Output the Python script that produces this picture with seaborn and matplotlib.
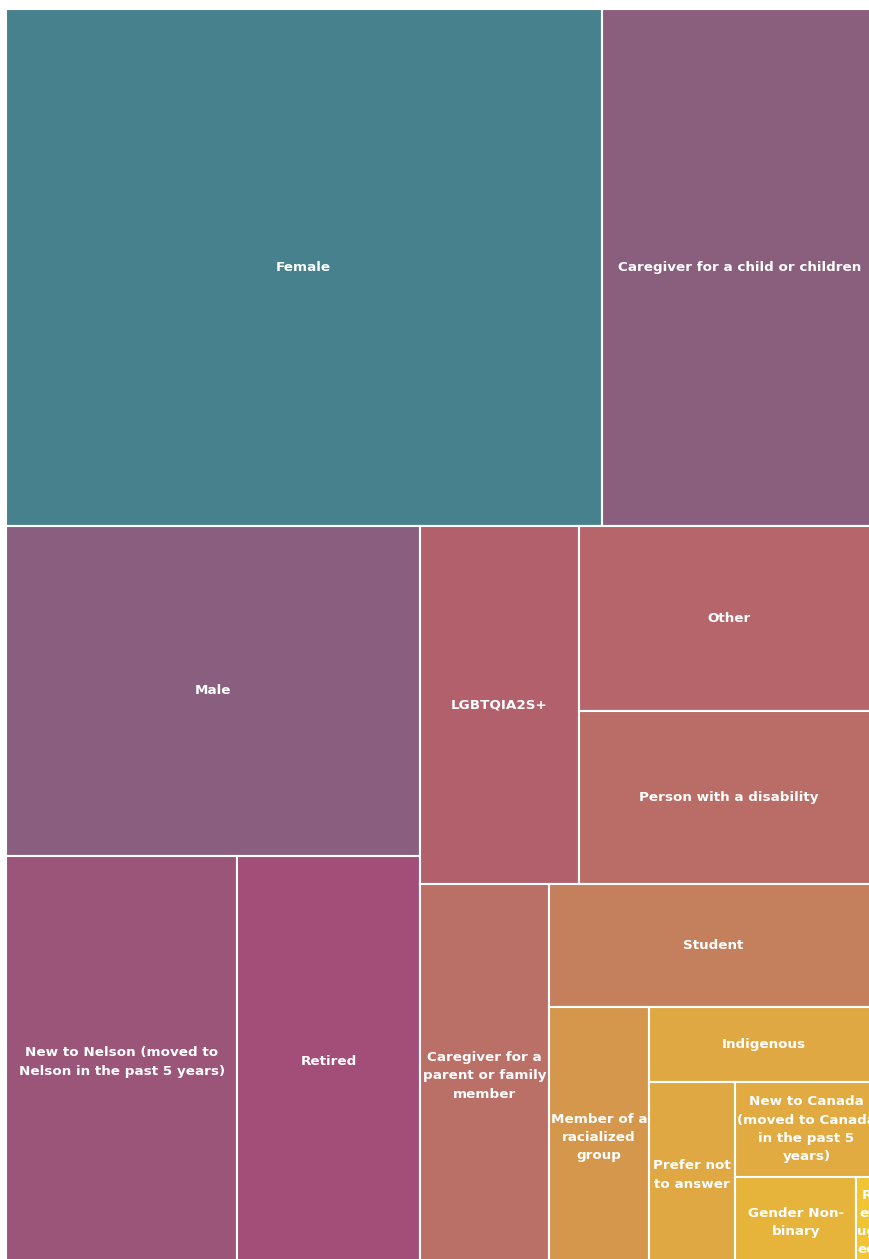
import numpy as np
import pandas as pd
import matplotlib
matplotlib.use("Agg")
import matplotlib.pyplot as plt
import seaborn as sns
from matplotlib.patches import Rectangle
from matplotlib.font_manager import FontProperties

# ---------------- data ----------------
categories = [
    "Female",
    "Caregiver for a child or children",
    "Male",
    "New to Nelson (moved to Nelson in the past 5 years)",
    "Retired",
    "LGBTQIA2S+",
    "Other",
    "Person with a disability",
    "Caregiver for a parent or family member",
    "Student",
    "Member of a racialized group",
    "Indigenous",
    "Prefer not to answer",
    "New to Canada (moved to Canada in the past 5 years)",
    "Gender Non-binary",
    "Refugee",
]
counts = [614, 285, 272, 190, 150, 114, 110, 103, 99, 81, 52, 34, 32, 27, 22, 4]

palette = [
    "#46818D", "#8A5F7E", "#8A5E7E", "#9B5579", "#A34E78", "#B3606D",
    "#B6666A", "#B96D66", "#BA6F67", "#C47F5D", "#D5974C", "#DFA843",
    "#DFA843", "#E1AB41", "#E6B43B", "#F0C433",
]

df = pd.DataFrame({"category": categories, "count": counts, "color": palette})

# ---------------- style ----------------
sns.set_theme(style="white")
plt.rcParams["font.family"] = ["DejaVu Sans"]
colors = sns.color_palette(list(df["color"]))

FIG_W, FIG_H, DPI = 870, 1259, 100
fig = plt.figure(figsize=(FIG_W / DPI, FIG_H / DPI), dpi=DPI)
fig.patch.set_facecolor("white")
# the treemap area runs past the right and bottom edges of the image
ax = fig.add_axes([6 / FIG_W, -9 / FIG_H, 872 / FIG_W, 1259 / FIG_H])
ax.set_axis_off()
pos = ax.get_position()
AW = pos.width * FIG_W
AH = pos.height * FIG_H
ax.set_xlim(0, AW)
ax.set_ylim(AH, 0)


# ---------------- layout (ordered binary split) ----------------
def split_layout(idx, vals, x0, y0, x1, y1, out):
    if len(idx) == 1:
        out[idx[0]] = (x0, y0, x1, y1)
        return
    sub = [vals[i] for i in idx]
    total = float(sum(sub))
    csum = np.cumsum(sub)
    k = int(np.sum(csum <= total / 2.0))
    k = min(max(k, 1), len(idx) - 1)
    vl = csum[k - 1]
    if (x1 - x0) > (y1 - y0):
        xk = x0 + (x1 - x0) * vl / total
        split_layout(idx[:k], vals, x0, y0, xk, y1, out)
        split_layout(idx[k:], vals, xk, y0, x1, y1, out)
    else:
        yk = y0 + (y1 - y0) * vl / total
        split_layout(idx[:k], vals, x0, y0, x1, yk, out)
        split_layout(idx[k:], vals, x0, yk, x1, y1, out)


order = list(df.sort_values("count", ascending=False).index)
rects = {}
split_layout(order, list(df["count"]), 0.0, 0.0, AW, AH, rects)

# ---------------- text wrapping ----------------
renderer = fig.canvas.get_renderer()
FS = 9.7
prop = FontProperties(family="DejaVu Sans", weight="bold", size=FS)


def tw(s):
    w, h, d = renderer.get_text_width_height_descent(s, prop, ismath=False)
    return w


def tokens_of(label):
    toks = []
    for word in label.split(" "):
        parts = word.split("-")
        for j, p in enumerate(parts):
            if j < len(parts) - 1:
                toks.append((p + "-", j == 0))
            else:
                toks.append((p, j == 0))
    return toks  # (text, preceded_by_space)


def wrap(label, maxw):
    lines = []
    cur = ""
    for tok, spaced in tokens_of(label):
        cand = tok if cur == "" else (cur + (" " if spaced else "") + tok)
        if tw(cand) <= maxw:
            cur = cand
            continue
        if cur:
            lines.append(cur)
        cur = ""
        if tw(tok) <= maxw:
            cur = tok
        else:
            piece = ""
            for ch in tok:
                if piece and tw(piece + ch) > maxw:
                    lines.append(piece)
                    piece = ch
                else:
                    piece += ch
            cur = piece
    if cur:
        lines.append(cur)
    return "\n".join(lines)


# ---------------- draw ----------------
for i in order:
    x0, y0, x1, y1 = rects[i]
    r = Rectangle((x0, y0), x1 - x0, y1 - y0, facecolor=colors[i],
                  edgecolor="white", linewidth=1.5)
    ax.add_patch(r)
    txt = wrap(df.loc[i, "category"], (x1 - x0) - 2.6)
    t = ax.text((x0 + x1) / 2, (y0 + y1) / 2, txt, ha="center", va="center",
                multialignment="center", color="white", fontsize=FS,
                fontweight="bold", linespacing=1.52, clip_on=True)
    t.set_clip_path(r)

fig.savefig("out.png", dpi=DPI, facecolor="white")
